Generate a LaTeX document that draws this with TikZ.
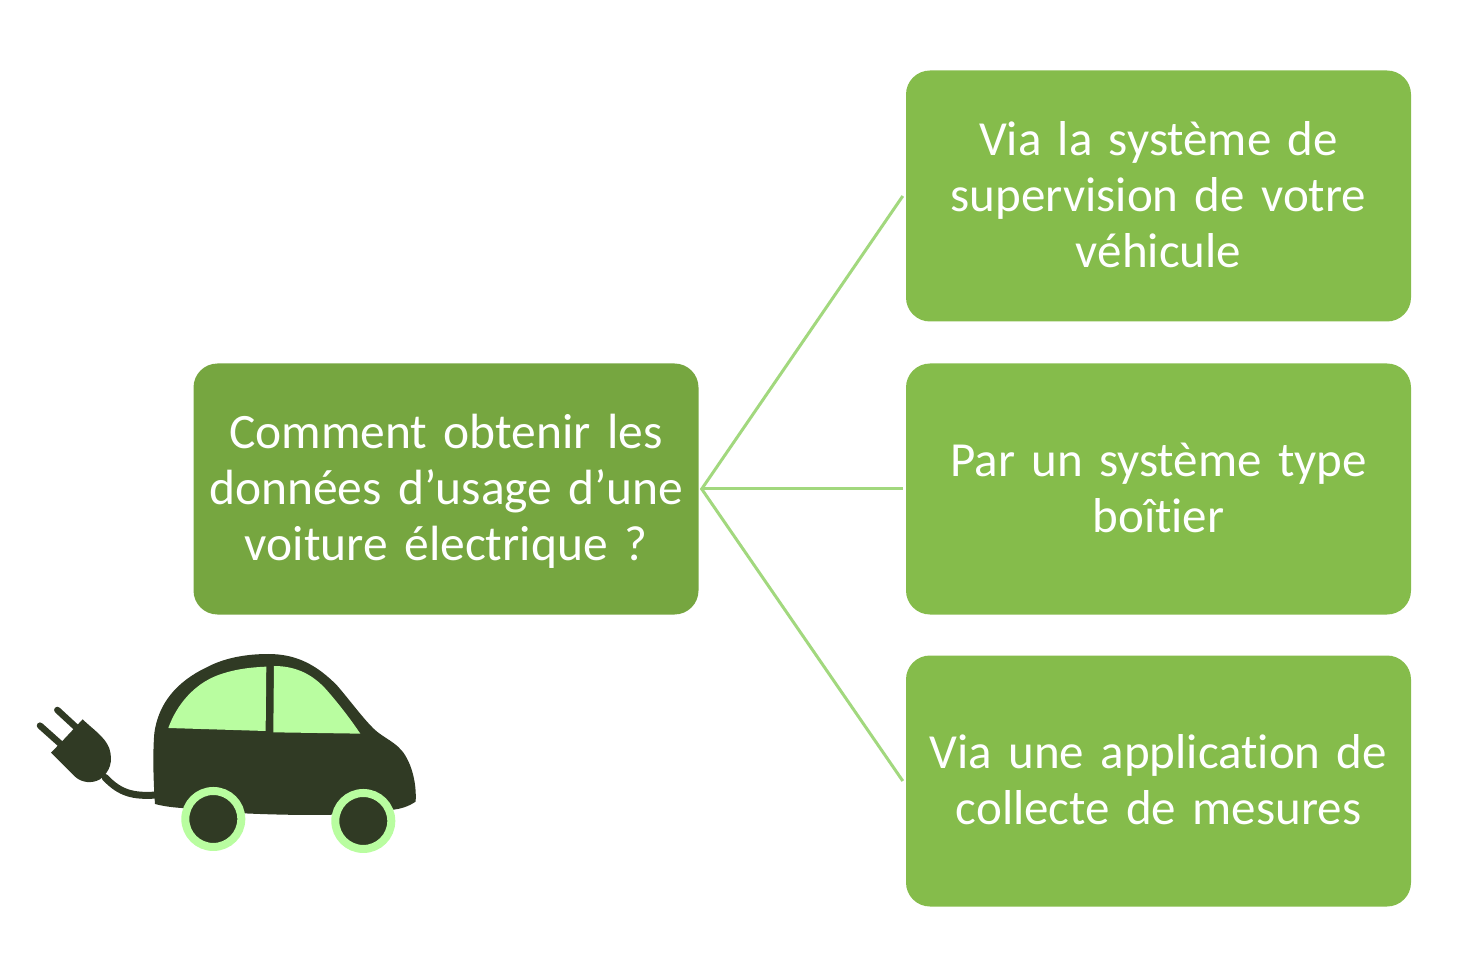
\documentclass[tikz,border=0pt]{standalone}
\usepackage{fontspec}
\setmainfont[WordSpace=0.72,RawFeature={-liga}]{Carlito}
\definecolor{boxgreen}{HTML}{85BC4B}
\definecolor{hubgreen}{HTML}{76A640}
\definecolor{linkgreen}{HTML}{A2D87E}
\definecolor{cardark}{HTML}{303A24}
\definecolor{carlight}{HTML}{B9FDA0}
\tikzset{
  box/.style={rounded corners=24pt,minimum width=505pt,minimum height=251pt,inner sep=0pt,text=white,align=center,
    text width=490pt},
  rightbox/.style={box,fill=boxgreen,font=\fontsize{49}{56}\selectfont,execute at end node={\par\vspace*{3pt}}},
  hubbox/.style={box,fill=hubgreen,font=\fontsize{49.5}{56}\selectfont,execute at end node={\par\vspace*{-4pt}}},
  link/.style={draw=linkgreen,line width=3pt},
  carbody/.style={fill=cardark,draw=none},
  carglass/.style={fill=carlight,draw=none},
  wheelring/.style={fill=cardark,draw=carlight,line width=8pt}
}
\begin{document}
\begin{tikzpicture}[x=1pt,y=-1pt]
\useasboundingbox (0,0) rectangle (1460,973);
\node[hubbox] (hub) at (446,489) {Comment obtenir les\\données d’usage d’une\\voiture électrique ?};
\node[rightbox] (a) at (1158.5,196) {Via la système de\\supervision de votre\\véhicule};
\node[rightbox] (b) at (1158.5,489) {Par un système type\\boîtier};
\node[rightbox] (c) at (1158.5,781) {Via une application de\\collecte de mesures};
\coordinate (h0) at ([xshift=3pt]hub.east);
\coordinate (a0) at ([xshift=-3pt]a.west);
\coordinate (b0) at ([xshift=-3pt]b.west);
\coordinate (c0) at ([xshift=-3pt]c.west);
\draw[link] (a0) -- (h0) -- (c0);
\draw[link] (h0) -- (b0);
\begin{scope}[shift={(20,640)},x=0.3333pt,y=-0.3333pt]
% body
\path[carbody] (405,492) .. controls (400,420) and (398,340) .. (403,280)
  .. controls (415,190) and (470,125) .. (560,82)
  .. controls (620,50) and (690,42) .. (745,42)
  .. controls (830,42) and (890,75) .. (950,135)
  .. controls (985,175) and (1025,230) .. (1060,265)
  .. controls (1090,295) and (1130,305) .. (1155,345)
  .. controls (1180,385) and (1190,440) .. (1187,485)
  .. controls (1165,500) and (1140,508) .. (1110,510)
  -- (1000,522) .. controls (900,527) and (780,525) .. (670,520)
  -- (500,505) .. controls (465,503) and (435,500) .. (405,492) -- cycle;
% windows
\path[carglass] (445,264) .. controls (470,195) and (520,135) .. (590,107)
  .. controls (640,88) and (690,82) .. (739,80) -- (737,273) -- cycle;
\path[carglass] (762,78) .. controls (830,78) and (880,105) .. (920,150)
  .. controls (955,190) and (990,235) .. (1021,281) -- (760,277) -- cycle;
% wheels
\path[wheelring,line width=8pt] (580,537) circle (84);
\path[wheelring,line width=8pt] (1030,543) circle (84);
% cable
\draw[cardark,line width=7pt,line cap=round] (255,412) .. controls (300,460) and (340,470) .. (410,465);
% plug
\path[carbody] (93,338) -- (130,300) -- (188,238)
  .. controls (215,265) and (255,290) .. (268,325)
  .. controls (280,365) and (270,395) .. (240,418)
  .. controls (215,432) and (185,428) .. (165,410) -- cycle;
\draw[cardark,line width=6.5pt,line cap=round] (60,257) -- (125,315);
\draw[cardark,line width=6.5pt,line cap=round] (112,210) -- (177,270);
\end{scope}
\end{tikzpicture}
\end{document}
